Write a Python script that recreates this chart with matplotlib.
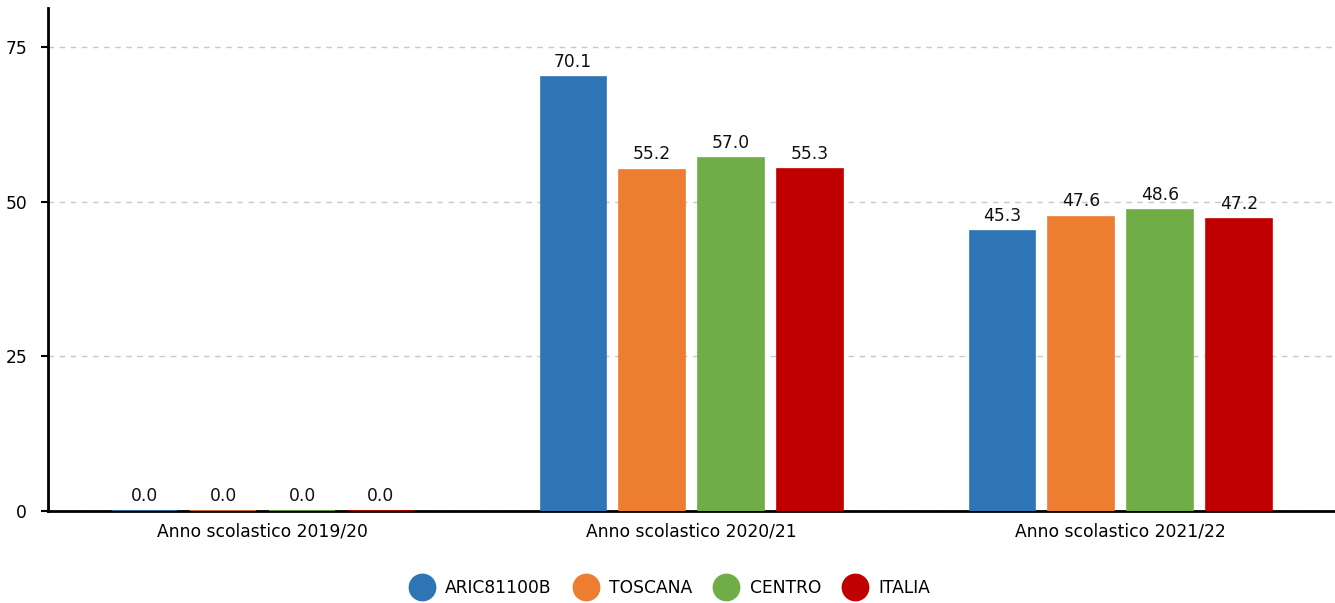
import matplotlib.pyplot as plt
from matplotlib.lines import Line2D

categories = ['Anno scolastico 2019/20', 'Anno scolastico 2020/21', 'Anno scolastico 2021/22']
series = ['ARIC81100B', 'TOSCANA', 'CENTRO', 'ITALIA']
colors = ['#2e75b6', '#ed7d31', '#70ad47', '#c00000']
values = [
    [0.0, 70.1, 45.3],
    [0.0, 55.2, 47.6],
    [0.0, 57.0, 48.6],
    [0.0, 55.3, 47.2],
]

plt.rcParams['font.family'] = ['DejaVu Sans']
fs = 12.3

fig = plt.figure(figsize=(13.35, 6.03), dpi=100)
ax = fig.add_axes([0.036, 0.1526, 0.964, 0.834])

pitch = 0.184
width = 0.152
for i, (name, col, vals) in enumerate(zip(series, colors, values)):
    off = (i - 1.5) * pitch
    xs = [k + off for k in range(len(categories))]
    ax.bar(xs, vals, width, color=col, edgecolor=col, linewidth=1.2, zorder=3)
    for x, v in zip(xs, vals):
        ax.text(x, v + 1.0, f'{v:.1f}', ha='center', va='bottom', fontsize=fs, color='#111111', zorder=4)

ax.set_xlim(-0.5, 2.5)
ax.set_ylim(0, 81.3)
ax.set_yticks([0, 25, 50, 75])
ax.set_xticks(range(len(categories)))
ax.set_xticklabels(categories, fontsize=fs)
ax.tick_params(axis='x', length=0, pad=8)
ax.tick_params(axis='y', length=5, width=1.5, labelsize=fs, pad=10)
ax.yaxis.grid(True, linestyle=(0, (4, 4)), color='#c8c8c8', linewidth=1)
ax.set_axisbelow(True)
for s in ['top', 'right']:
    ax.spines[s].set_visible(False)
ax.spines['left'].set_linewidth(2)
ax.spines['bottom'].set_linewidth(2)
ax.spines['bottom'].set_zorder(2)

handles = [Line2D([], [], marker='o', linestyle='', markersize=19, color=c) for c in colors]
fig.legend(handles, series, loc='center', bbox_to_anchor=(0.5, 0.025), ncol=4, frameon=False,
           fontsize=fs, handletextpad=0.35, columnspacing=1.0)

fig.savefig('out.png', dpi=100)
